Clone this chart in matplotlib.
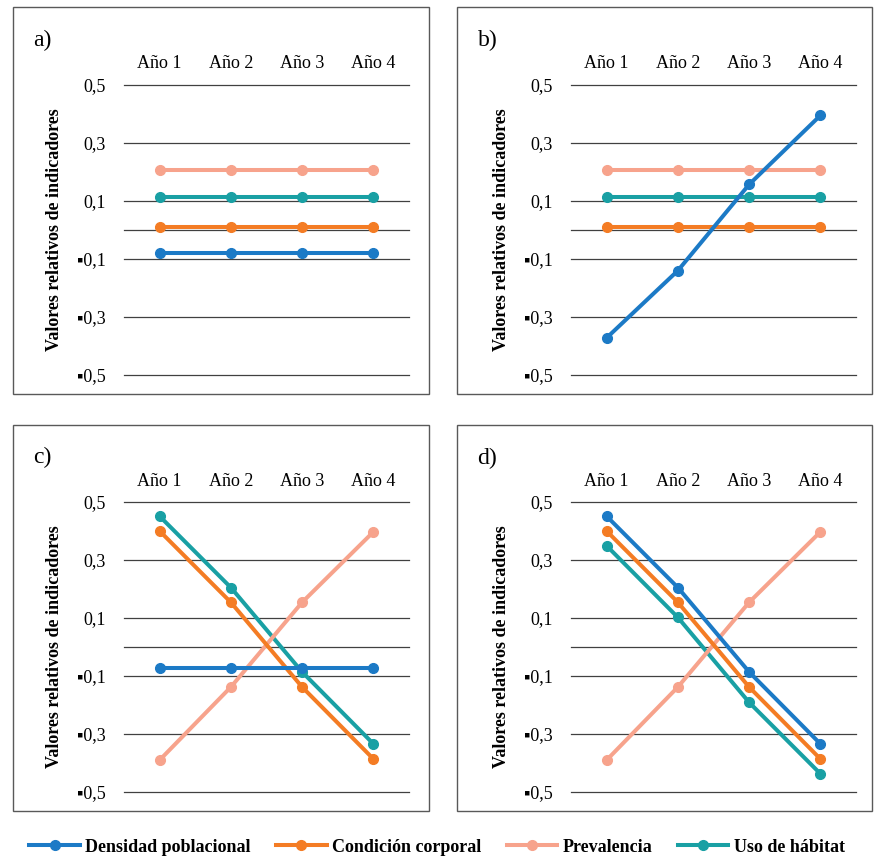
import matplotlib
matplotlib.use("Agg")
import matplotlib.pyplot as plt
from matplotlib.patches import Rectangle
from matplotlib.lines import Line2D

plt.rcParams['font.family'] = ['Liberation Serif', 'DejaVu Sans']

# datos
years = ['Año 1', 'Año 2', 'Año 3', 'Año 4']
series = ['Densidad poblacional', 'Condición corporal', 'Prevalencia', 'Uso de hábitat']
colors = ['#1C7AC6', '#F47C24', '#F7A38C', '#19A0A4']

densidad = {
    'a': [-0.078, -0.078, -0.078, -0.078],
    'b': [-0.372, -0.140, 0.157, 0.395],
    'c': [-0.072, -0.072, -0.072, -0.072],
    'd': [0.451, 0.205, -0.086, -0.334],
}
condicion = {
    'a': [0.011, 0.011, 0.011, 0.011],
    'b': [0.011, 0.011, 0.011, 0.011],
    'c': [0.400, 0.154, -0.138, -0.386],
    'd': [0.400, 0.154, -0.138, -0.386],
}
prevalencia = {
    'a': [0.207, 0.207, 0.207, 0.207],
    'b': [0.207, 0.207, 0.207, 0.207],
    'c': [-0.390, -0.138, 0.154, 0.397],
    'd': [-0.390, -0.138, 0.154, 0.397],
}
uso = {
    'a': [0.115, 0.115, 0.115, 0.115],
    'b': [0.113, 0.113, 0.113, 0.113],
    'c': [0.451, 0.205, -0.086, -0.334],
    'd': [0.349, 0.102, -0.191, -0.437],
}

yticks = [0.5, 0.3, 0.1, -0.1, -0.3, -0.5]
ytick_labels = ['0,5', '0,3', '0,1', '▪0,1', '▪0,3', '▪0,5']

W, H = 874, 859
fig = plt.figure(figsize=(W / 100, H / 100), dpi=100)

def rect(l, t, w, h):
    return [l / W, 1 - (t + h) / H, w / W, h / H]

# paneles: (letra, eje, caja, posicion letra)
panels = [
    ('a', (124, 85), (13, 7, 429, 394), (33, 40)),
    ('b', (571, 85), (457, 7, 872, 394), (478, 40)),
    ('c', (124, 502), (13, 425, 429, 811), (33, 457)),
    ('d', (571, 502), (457, 425, 872, 811), (477, 458)),
]

for key, (l, t), (x0, y0, x1, y1), (lx, ly) in panels:
    fig.add_artist(Rectangle((x0 / W, 1 - y1 / H), (x1 - x0) / W, (y1 - y0) / H,
                             transform=fig.transFigure, fill=False,
                             edgecolor='#595959', linewidth=1.0))
    fig.text(lx / W, 1 - ly / H, key + ')', fontsize=17, ha='left', va='center')

    ax = fig.add_axes(rect(l, t, 285, 290))
    ax.set_xlim(-0.5, 3.5)
    ax.set_ylim(-0.5, 0.5)
    for s in ax.spines.values():
        s.set_visible(False)
    for yv in yticks + [0]:
        ax.axhline(yv, color='#404040', linewidth=0.9, clip_on=False, zorder=1)

    vals = [densidad[key], condicion[key], prevalencia[key], uso[key]]
    # Excel dibuja la primera serie encima
    for i in [3, 2, 1, 0]:
        ax.plot(range(4), vals[i], color=colors[i], linewidth=2.9, marker='o',
                markersize=7, zorder=3 + (3 - i), clip_on=False)

    ax.xaxis.tick_top()
    ax.set_xticks(range(4))
    ax.set_xticklabels(years, fontsize=13)
    ax.set_yticks(yticks)
    ax.set_yticklabels(ytick_labels, fontsize=13)
    ax.tick_params(axis='x', length=0, pad=9)
    ax.tick_params(axis='y', length=0, pad=13)
    ax.set_ylabel('Valores relativos de indicadores', fontsize=13, fontweight='bold')
    ax.yaxis.set_label_coords(-0.214, 0.5)

handles = [Line2D([], [], color=c, linewidth=2.9, marker='o', markersize=7) for c in colors]
fig.legend(handles, series, loc='center', bbox_to_anchor=(0.5, 1 - 847 / H), ncol=4,
           frameon=False, prop={'weight': 'bold', 'size': 13},
           handlelength=2.8, handletextpad=0.3, columnspacing=1.4)

fig.savefig('out.png', dpi=100)
